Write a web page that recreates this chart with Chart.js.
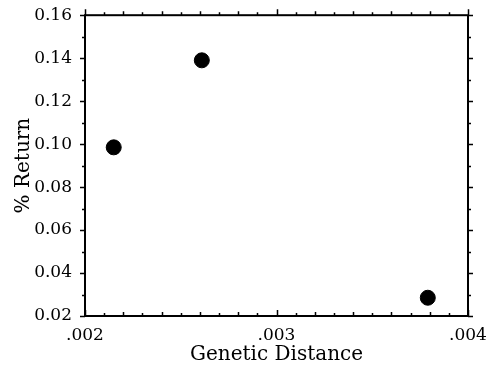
<!DOCTYPE html>
<html>
<head>
<meta charset="utf-8">
<script src="https://cdn.jsdelivr.net/npm/chart.js@4"></script>
<style>
  html, body { margin: 0; padding: 0; background: #fff; }
  #wrap { width: 489px; height: 367px; }
</style>
</head>
<body>
<div id="wrap"><canvas id="chart"></canvas></div>
<script>
  /* ── Data ── */
  const geneticDistance = [0.00215, 0.00261, 0.00379];
  const percentReturn = [0.0985, 0.139, 0.0285];

  const xTicks = [0.002, 0.003, 0.004];
  const yTicks = [0.02, 0.04, 0.06, 0.08, 0.10, 0.12, 0.14, 0.16];

  const FONT = "'DejaVu Serif', serif";

  /* ── Frame + minor ticks on all four sides ── */
  const framePlugin = {
    id: "frame",
    afterDraw(chart) {
      const { ctx, chartArea: a, scales } = chart;
      const xs = scales.x, ys = scales.y;
      ctx.save();
      ctx.strokeStyle = "#000";
      ctx.lineWidth = 2;
      ctx.strokeRect(a.left, a.top, a.right - a.left, a.bottom - a.top);

      ctx.lineWidth = 1.5;
      ctx.beginPath();
      // x ticks every .0001
      for (let i = 0; i <= 20; i++) {
        const v = xTicks[0] + i * 0.0001;
        const px = Math.round(xs.getPixelForValue(v)) + 0.5;
        const len = i % 10 === 0 ? 6 : i % 2 === 0 ? 4 : 3;
        ctx.moveTo(px, a.bottom);
        ctx.lineTo(px, a.bottom - len);
        ctx.moveTo(px, a.top);
        ctx.lineTo(px, a.top - len);
      }
      // y ticks every .01
      for (let i = 0; i <= 14; i++) {
        const v = yTicks[0] + i * 0.01;
        const py = Math.round(ys.getPixelForValue(v)) + 0.5;
        const len = i % 2 === 0 ? 5 : 3;
        ctx.moveTo(a.left, py);
        ctx.lineTo(a.left - len, py);
        ctx.moveTo(a.right, py);
        ctx.lineTo(a.right + len, py);
      }
      ctx.stroke();
      ctx.restore();
    },
  };

  new Chart(document.getElementById("chart").getContext("2d"), {
    type: "scatter",
    data: {
      datasets: [
        {
          data: geneticDistance.map((x, i) => ({ x, y: percentReturn[i] })),
          backgroundColor: "#000",
          borderColor: "#000",
          pointRadius: 7.5,
          pointHoverRadius: 7.5,
        },
      ],
    },
    options: {
      responsive: true,
      maintainAspectRatio: false,
      animation: false,
      layout: { padding: { left: 0, right: 21, top: 14, bottom: 0 } },
      scales: {
        x: {
          type: "linear",
          min: xTicks[0],
          max: xTicks[xTicks.length - 1],
          afterBuildTicks: (s) => { s.ticks = xTicks.map((v) => ({ value: v })); },
          afterFit: (s) => { s.height = 51; },
          grid: { display: false },
          border: { display: false },
          ticks: {
            color: "#000",
            font: { family: FONT, size: 17 },
            padding: 1,
            maxRotation: 0,
            callback: (v) => v.toFixed(3).replace(/^0/, ""),
          },
          title: {
            display: true,
            text: "Genetic Distance",
            color: "#000",
            font: { family: FONT, size: 20 },
            padding: { top: 0, bottom: 0 },
          },
        },
        y: {
          type: "linear",
          min: yTicks[0],
          max: yTicks[yTicks.length - 1],
          afterBuildTicks: (s) => { s.ticks = yTicks.map((v) => ({ value: v })); },
          afterFit: (s) => { s.width = 85; },
          grid: { display: false },
          border: { display: false },
          ticks: {
            color: "#000",
            font: { family: FONT, size: 17 },
            padding: 5,
            callback: (v) => v.toFixed(2),
          },
          title: {
            display: true,
            text: "% Return",
            color: "#000",
            font: { family: FONT, size: 20 },
            padding: { top: 12, bottom: 0 },
          },
        },
      },
      plugins: {
        legend: { display: false },
        tooltip: { enabled: false },
      },
    },
    plugins: [framePlugin],
  });
</script>
</body>
</html>
